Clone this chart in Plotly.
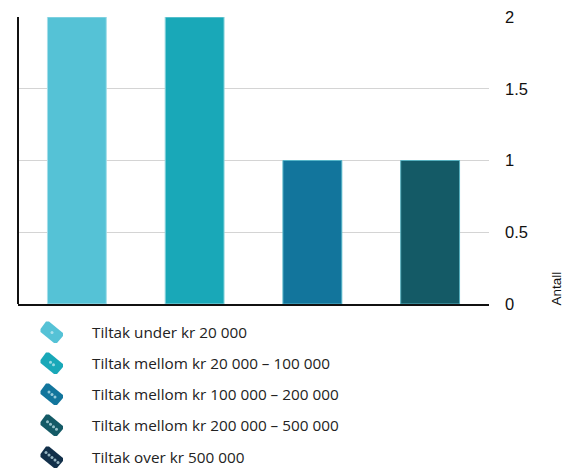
import plotly.graph_objects as go

categories = ["Tiltak under kr 20 000", "Tiltak mellom kr 20 000 – 100 000",
              "Tiltak mellom kr 100 000 – 200 000", "Tiltak mellom kr 200 000 – 500 000",
              "Tiltak over kr 500 000"]
values = [2, 2, 1, 1, 0]
colors = ["#55c2d6", "#19a8b8", "#12759c", "#145a66", "#12304a"]
edge_colors = ["#a5dfe9", "#8fd6de", "#55b5c8", "#55b0be", "#12304a"]
tick_vals = [0, 0.5, 1, 1.5, 2]
tick_text = ["0", "0.5", "1", "1.5", "2"]
legend_rows = [332, 363, 394, 425, 457]

W, H = 563, 468
L, R, T, B = 18, 489, 17, 304

def px(x):
    return (x - L) / (R - L)

def py(y):
    return (B - y) / (B - T)

def tag_path(cy):
    pts = [(40.5, cy - 3), (46, cy - 10.5), (49, cy - 10.5), (63, cy + 1), (63, cy + 4),
           (57, cy + 11), (54, cy + 11), (40.5, cy)]
    return "M " + " L ".join(f"{px(a):.5f} {py(b):.5f}" for a, b in pts) + " Z"

fig = go.Figure()
fig.add_bar(x=categories[:4], y=values[:4], width=0.5,
            marker=dict(color=colors[:4], line=dict(color=edge_colors[:4], width=1)),
            showlegend=False)

shapes = [dict(type="line", xref="paper", yref="paper", x0=0, x1=0, y0=0, y1=1,
               line=dict(color="#111111", width=2))]
annotations = []
for i, cy in enumerate(legend_rows):
    shapes.append(dict(type="path", xref="paper", yref="paper", path=tag_path(cy),
                       fillcolor=colors[i], line=dict(color=colors[i], width=0)))
    n = i + 1
    for k in range(n):
        off = (k - (n - 1) / 2) * 3.0
        cx, cyy = 52 + off, cy + 0.5 + off * 0.85
        shapes.append(dict(type="circle", xref="paper", yref="paper",
                           x0=px(cx - 1.5), x1=px(cx + 1.5), y0=py(cyy + 1.5), y1=py(cyy - 1.5),
                           fillcolor="#cfeef3", line=dict(width=0), opacity=0.7))
    annotations.append(dict(text=categories[i], xref="paper", yref="paper", x=px(92), y=py(cy),
                            xanchor="left", yanchor="middle", showarrow=False, xshift=-2,
                            font=dict(family="Open Sans", size=15.3, color="#222222")))
annotations.append(dict(text="Antall", xref="paper", yref="paper", x=px(555.5), y=0,
                        xanchor="center", yanchor="bottom", textangle=-90, showarrow=False,
                        yshift=-4,
                        font=dict(family="Liberation Sans", size=13.5, color="#111111")))

fig.update_layout(
    width=W, height=H, margin=dict(l=L, r=W - R, t=T, b=H - B, autoexpand=False),
    paper_bgcolor="white", plot_bgcolor="white", bargap=0.5,
    shapes=shapes, annotations=annotations, showlegend=False,
    xaxis=dict(showticklabels=False, ticks="", showgrid=False, showline=True,
               linecolor="#111111", linewidth=2, type="category", range=[-0.5, 3.5], fixedrange=True),
    yaxis=dict(side="right", range=[0, 2], tickvals=tick_vals, ticktext=tick_text,
               gridcolor="#d4d4d4", gridwidth=1.4, zeroline=False, showline=False, ticks="",
               ticklabelstandoff=15, fixedrange=True,
               tickfont=dict(family="Liberation Sans", size=16.5, color="#111111")),
)
fig.write_html("out.html", config=dict(displayModeBar=False),
               post_script="document.body.style.margin='0';document.body.style.overflow='hidden';")
